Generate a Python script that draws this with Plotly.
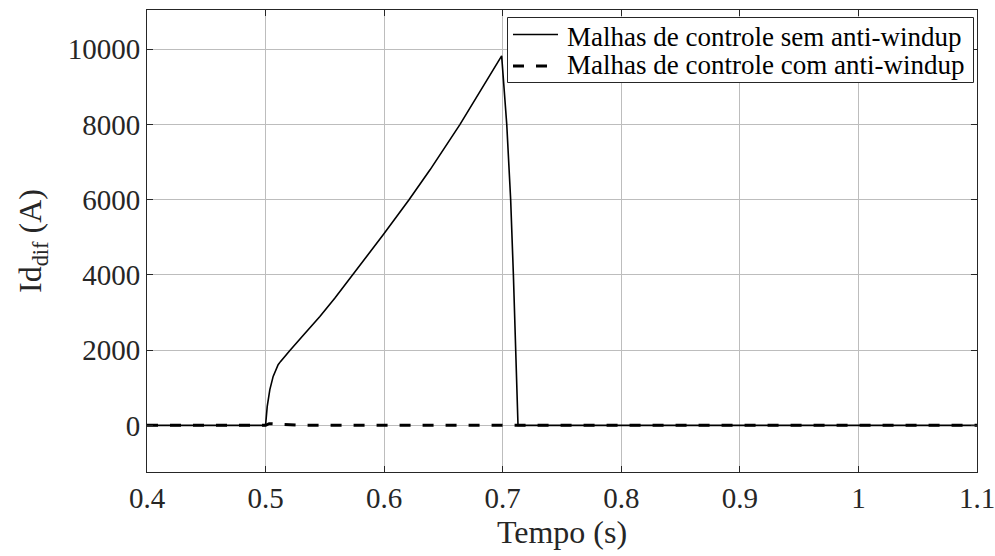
import plotly.graph_objects as go

# Time axis (s) and differential current Id_dif (A) for both control loops
t_sem = [0.40, 0.50, 0.5014, 0.5036, 0.5064, 0.5085, 0.5106, 0.5127, 0.5149,
         0.5175, 0.5205, 0.5318, 0.5458, 0.5585, 0.5726, 0.5992, 0.6210,
         0.6387, 0.6640, 0.6991, 0.7034, 0.7067, 0.7090, 0.7112, 0.7129, 1.10]
id_sem = [0, 0, 505, 948, 1301, 1470, 1612, 1700, 1790,
          1890, 1992, 2395, 2895, 3385, 3965, 5065, 5995,
          6792, 8000, 9820, 8000, 6000, 4000, 2000, 0, 0]

t_com = [0.40, 0.500, 0.503, 0.515, 0.530, 1.10]
id_com = [0, 0, 45, 20, 0, 0]

x_ticks = [0.4, 0.5, 0.6, 0.7, 0.8, 0.9, 1.0, 1.1]
x_tick_text = ["0.4", "0.5", "0.6", "0.7", "0.8", "0.9", "1", "1.1"]
y_ticks = [0, 2000, 4000, 6000, 8000, 10000]
y_tick_text = ["0", "2000", "4000", "6000", "8000", "10000"]

legend_labels = ["Malhas de controle sem anti-windup",
                 "Malhas de controle com anti-windup"]

FONT = "Liberation Serif, Times New Roman, serif"
INK = "#262626"
GRID = "#bdbdbd"

W, H = 995, 556
M_L, M_R, M_T, M_B = 147, 18, 10, 84
PW, PH = W - M_L - M_R, H - M_T - M_B


def px(x):
    """Horizontal pixel position -> paper coordinate."""
    return (x - M_L) / PW


def py(y):
    """Vertical pixel position -> paper coordinate."""
    return 1 - (y - M_T) / PH


solid = dict(color="black", width=1.6)
dashed = dict(color="black", width=3, dash="11px,12px")

fig = go.Figure()
fig.add_trace(go.Scatter(x=t_sem, y=id_sem, mode="lines",
                         name=legend_labels[0], line=solid))
fig.add_trace(go.Scatter(x=t_com, y=id_com, mode="lines",
                         name=legend_labels[1], line=dashed))

axis_common = dict(
    showline=True, linecolor=INK, linewidth=1, mirror="ticks",
    ticks="inside", ticklen=6, tickcolor=INK, tickwidth=1,
    showgrid=True, gridcolor=GRID, gridwidth=1,
    zeroline=False, automargin=False, ticklabeloverflow="allow",
    tickfont=dict(family=FONT, size=29, color=INK),
)

fig.update_xaxes(
    range=[0.4, 1.1], tickvals=x_ticks, ticktext=x_tick_text,
    title=dict(text="Tempo (s)", font=dict(family=FONT, size=32, color=INK),
               standoff=0),
    **axis_common,
)
fig.update_yaxes(
    range=[-1240, 11040], tickvals=y_ticks, ticktext=y_tick_text,
    title=dict(text="Id<sub>dif</sub> (A)",
               font=dict(family=FONT, size=32, color=INK), standoff=16),
    **axis_common,
)

# Boxed legend in the upper-right corner with compact rows
shapes = [dict(type="rect", xref="paper", yref="paper",
               x0=px(507.5), x1=px(973.5), y0=py(82.5), y1=py(17.5),
               line=dict(color=INK, width=1), fillcolor="white", layer="above")]
annotations = []
rows = [(34.5, 36.5, solid), (66.0, 65.5, dashed)]
for (line_y, text_y, style), label in zip(rows, legend_labels):
    shapes.append(dict(type="line", xref="paper", yref="paper",
                       x0=px(513), x1=px(558), y0=py(line_y), y1=py(line_y),
                       line=style, layer="above"))
    annotations.append(dict(text=label, xref="paper", yref="paper",
                            x=px(565), y=py(text_y), xanchor="left",
                            yanchor="middle", showarrow=False,
                            font=dict(family=FONT, size=27, color="black")))

fig.update_layout(
    width=W, height=H,
    margin=dict(l=M_L, r=M_R, t=M_T, b=M_B),
    paper_bgcolor="white", plot_bgcolor="white",
    font=dict(family=FONT, color=INK),
    showlegend=False,
    shapes=shapes, annotations=annotations,
)

fig.write_html("out.html")
